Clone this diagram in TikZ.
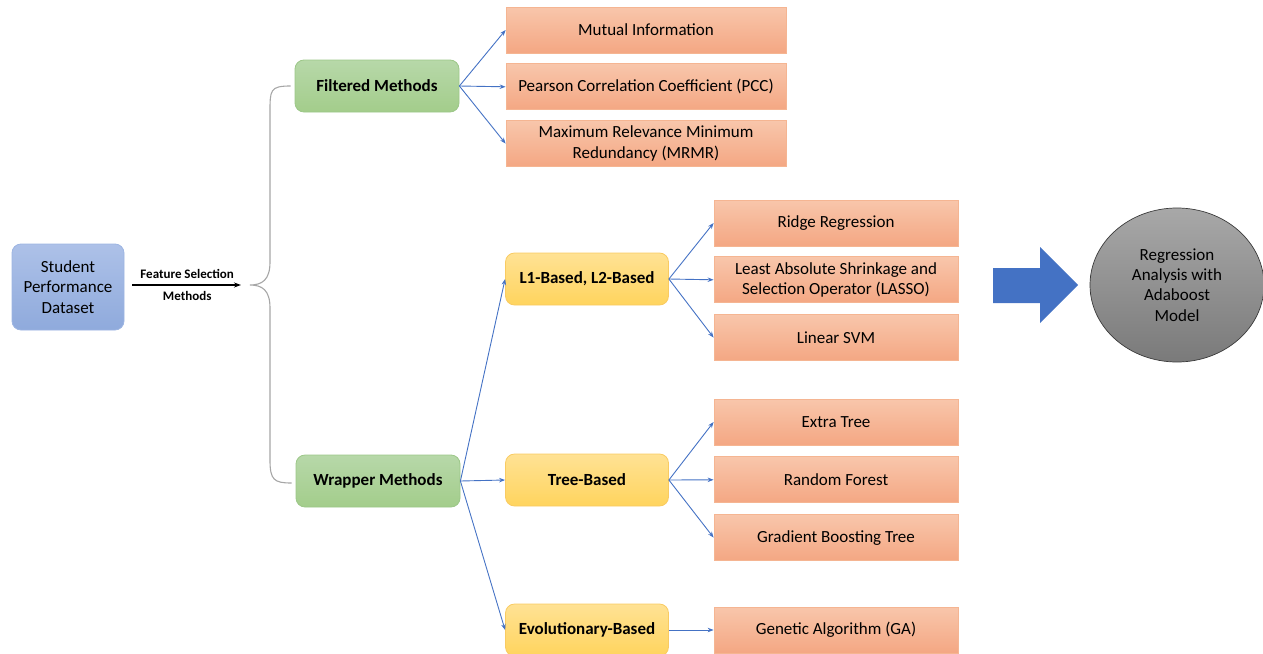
\documentclass[tikz,border=0pt]{standalone}
\usepackage{fontspec}
\setmainfont{Carlito}
\usepackage{xcolor}
\usepackage{tikz}
\usetikzlibrary{arrows.meta, positioning, shapes.geometric, calc}

\definecolor{dsTop}{HTML}{ADC1E8}
\definecolor{dsBot}{HTML}{8FAADC}
\definecolor{dsLine}{HTML}{9DB5E2}
\definecolor{grTop}{HTML}{B7D8A9}
\definecolor{grBot}{HTML}{A3CD8B}
\definecolor{grLine}{HTML}{9CC788}
\definecolor{ylTop}{HTML}{FFE294}
\definecolor{ylBot}{HTML}{FFD45E}
\definecolor{ylLine}{HTML}{F9CB62}
\definecolor{orTop}{HTML}{F8C6AB}
\definecolor{orBot}{HTML}{F4A783}
\definecolor{orLine}{HTML}{F5B592}
\definecolor{linkblue}{HTML}{4472C4}
\definecolor{braceGray}{HTML}{A6A6A6}
\definecolor{mdTop}{HTML}{A8A8A8}
\definecolor{mdBot}{HTML}{7A7A7A}
\definecolor{mdLine}{HTML}{3A3A3A}

\begin{document}
\begin{tikzpicture}[
    x=1pt, y=-1pt,
    node distance=10pt,
    base/.style={rectangle, draw, line width=0.8pt, align=center, inner sep=2pt},
    dataset/.style={base, rounded corners=9pt, minimum width=112pt, minimum height=86pt, top color=dsTop, bottom color=dsBot, draw=dsLine, font=\fontsize{17}{20.5}\selectfont},
    group/.style={base, rounded corners=9pt, minimum width=164pt, minimum height=52pt, top color=grTop, bottom color=grBot, draw=grLine, font=\fontsize{17}{20}\selectfont\bfseries},
    family/.style={base, rounded corners=9pt, minimum width=163pt, minimum height=52pt, top color=ylTop, bottom color=ylBot, draw=ylLine, font=\fontsize{17}{20}\selectfont\bfseries},
    method/.style={base, minimum width=280pt, minimum height=46pt, top color=orTop, bottom color=orBot, draw=orLine, font=\fontsize{17}{20.5}\selectfont},
    submethod/.style={method, minimum width=244pt},
    model/.style={ellipse, draw=mdLine, line width=0.7pt, top color=mdTop, bottom color=mdBot, minimum width=174pt, minimum height=154pt, align=center, inner sep=0pt, font=\fontsize{17}{20.3}\selectfont, text=black},
    link/.style={-{Stealth[length=6pt, width=4.5pt]}, linkblue, line width=0.9pt},
    fsarrow/.style={-{Stealth[length=7pt, width=5pt]}, black, line width=1.3pt},
    fslabel/.style={font=\fontsize{13}{15}\selectfont\bfseries, inner sep=1pt},
    brace/.style={draw=braceGray, line width=1.1pt}
]
\useasboundingbox (0,0) rectangle (1263,653);

% Input dataset and feature selection arrow
\node[dataset] (sd) at (68,287) {Student\\Performance\\Dataset};
\coordinate (tip) at (250,285);
\draw[fsarrow, shorten <=8pt, shorten >=9pt] (sd.east |- tip) -- (tip)
    node[midway, fslabel, above=5pt] {Feature Selection}
    node[midway, fslabel, below=5pt] {Methods};

% Two groups of methods
\node[group] (fm) at (377,86) {Filtered Methods};
\node[group] (wm) at (378,481) {Wrapper Methods};

% Curly brace joining both groups
\draw[brace] ($(fm.west)+(-4,0)$) .. controls (270,86) and (270,90) .. (270,112)
    -- (270,262) .. controls (270,280) and (262,285) .. (tip)
    .. controls (262,285) and (270,290) .. (270,308)
    -- (270,460) .. controls (270,480) and (274,483) .. ($(wm.west)+(-4,2)$);

% Filtered methods - stacked list
\node[method] (mi) at (646,30) {Mutual Information};
\node[method, below=of mi] (pcc) {Pearson Correlation Coefficient (PCC)};
\node[method, below=of pcc] (mrmr) {Maximum Relevance Minimum\\Redundancy (MRMR)};

\draw[link] (fm.east) -- (mi.west);
\draw[link] (fm.east) -- (pcc.west);
\draw[link] (fm.east) -- (mrmr.west);

% Wrapper method families
\node[family] (l12) at (587,279) {L1-Based, L2-Based};
\node[family] (tb) at (587,480) {Tree-Based};
\node[family] (ev) at (587,630) {Evolutionary-Based};

\draw[link] (wm.east) -- (l12.west);
\draw[link] (wm.east) -- (tb.west);
\draw[link] (wm.east) -- (ev.west);

% L1 / L2 based
\node[submethod] (ridge) at (836,223) {Ridge Regression};
\node[submethod, below=of ridge] (lasso) {Least Absolute Shrinkage and\\Selection Operator (LASSO)};
\node[submethod, below=11pt of lasso] (svm) {Linear SVM};

\draw[link] (l12.east) -- (ridge.west);
\draw[link] (l12.east) -- (lasso.west);
\draw[link] (l12.east) -- (svm.west);

% Tree based
\node[submethod] (et) at (836,422) {Extra Tree};
\node[submethod, below=11pt of et] (rf) {Random Forest};
\node[submethod, below=11pt of rf] (gbt) {Gradient Boosting Tree};

\draw[link] (tb.east) -- (et.west);
\draw[link] (tb.east) -- (rf.west);
\draw[link] (tb.east) -- (gbt.west);

% Evolutionary based
\node[submethod] (ga) at (836,630) {Genetic Algorithm (GA)};
\draw[link] (ev.east) -- (ga.west);

% Block arrow to the model
\fill[linkblue] (993,268) -- (1040,268) -- (1040,247) -- (1078,285)
    -- (1040,323) -- (1040,303) -- (993,303) -- cycle;

\node[model] (ada) at (1177,285) {Regression\\Analysis with\\Adaboost\\Model};

\end{tikzpicture}
\end{document}
